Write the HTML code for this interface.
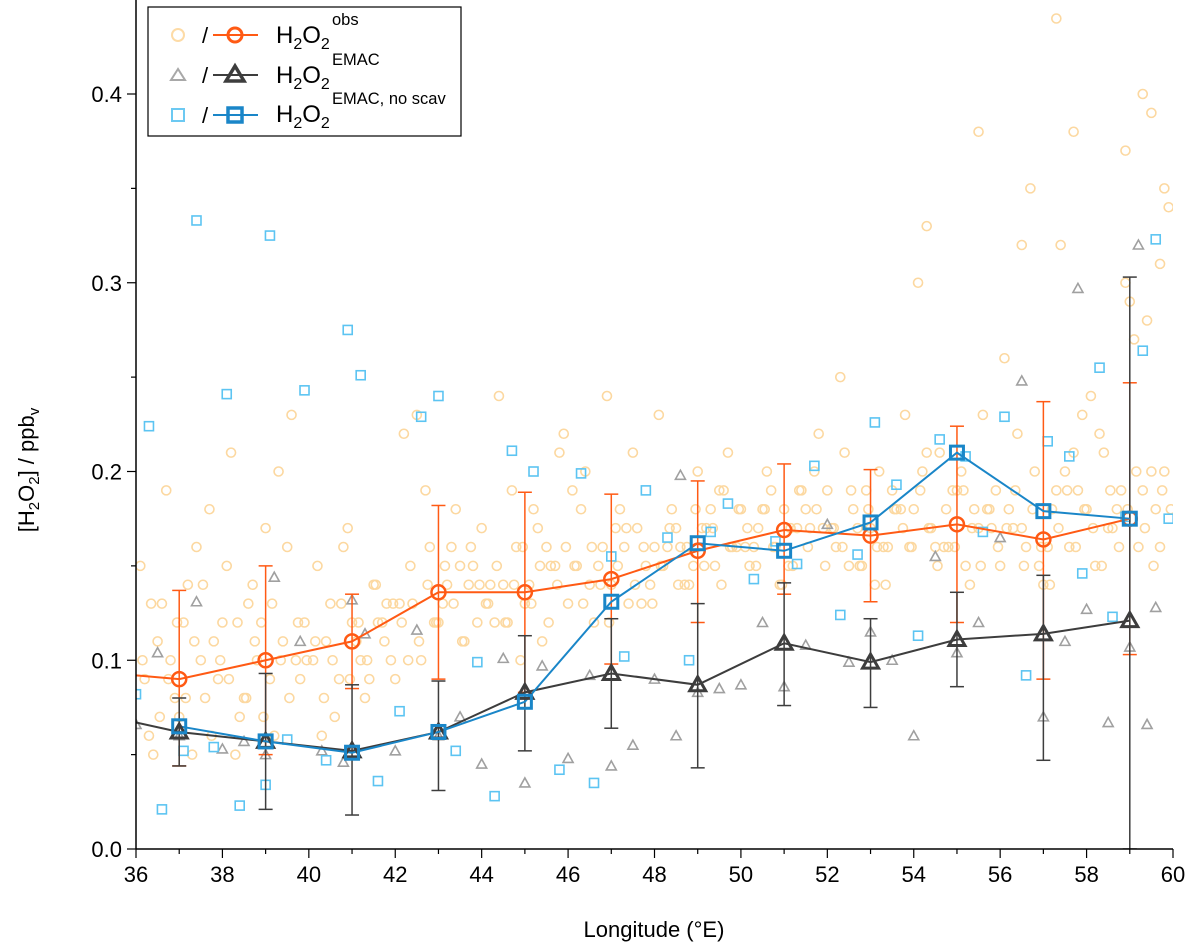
<!DOCTYPE html>
<html><head><meta charset="utf-8"><style>
body{margin:0;background:#fff;}
svg text{font-family:"Liberation Sans",Arial,sans-serif;}
</style></head><body>
<svg id="chart" width="1187" height="947" viewBox="0 0 1187 947" xmlns="http://www.w3.org/2000/svg">
<defs><clipPath id="clip"><rect x="136" y="0" width="1037" height="849"/></clipPath></defs>
<g id="scatter" clip-path="url(#clip)"></g>
<g id="lines" clip-path="url(#clip)"></g>
<g id="axes"></g>
<g id="legend">
<rect x="148" y="7" width="313" height="129" fill="#fff" stroke="#000" stroke-width="1.2"/>
<circle cx="178" cy="35" r="6" fill="none" stroke="#fddba6" stroke-width="2"/>
<text x="202" y="43" font-size="22">/</text>
<line x1="213" y1="35" x2="258" y2="35" stroke="#ff5a14" stroke-width="2"/>
<circle cx="235" cy="35" r="7" fill="none" stroke="#ff5a14" stroke-width="3"/>
<text x="276" y="43" font-size="24">H<tspan font-size="16" dy="6">2</tspan><tspan dy="-6">O</tspan><tspan font-size="16" dy="6">2</tspan></text>
<text x="332" y="25" font-size="16.5">obs</text>
<polygon points="178,69 171,80 185,80" fill="none" stroke="#a8a8a8" stroke-width="2"/>
<text x="202" y="83" font-size="22">/</text>
<line x1="213" y1="75" x2="258" y2="75" stroke="#3d3d3d" stroke-width="2"/>
<polygon points="235,66 226,81 244,81" fill="none" stroke="#3d3d3d" stroke-width="3.5"/>
<text x="276" y="83" font-size="24">H<tspan font-size="16" dy="6">2</tspan><tspan dy="-6">O</tspan><tspan font-size="16" dy="6">2</tspan></text>
<text x="332" y="65" font-size="16.5">EMAC</text>
<rect x="172" y="109" width="12" height="12" fill="none" stroke="#6cc9f2" stroke-width="2"/>
<text x="202" y="123" font-size="22">/</text>
<line x1="213" y1="115" x2="258" y2="115" stroke="#1a86c8" stroke-width="2"/>
<rect x="228" y="108" width="14" height="14" fill="none" stroke="#1a86c8" stroke-width="3.5"/>
<text x="276" y="122" font-size="24">H<tspan font-size="16" dy="6">2</tspan><tspan dy="-6">O</tspan><tspan font-size="16" dy="6">2</tspan></text>
<text x="332" y="104" font-size="16.5">EMAC, no scav</text>
</g>
</svg>
<script>
const binLon=[37,39,41,43,45,47,49,51,53,55,57,59];
const obsMean=[0.090,0.100,0.110,0.136,0.136,0.143,0.158,0.169,0.166,0.172,0.164,0.175];
const obsLo=[0.044,0.050,0.085,0.090,0.083,0.098,0.120,0.135,0.131,0.120,0.090,0.103];
const obsHi=[0.137,0.150,0.135,0.182,0.189,0.188,0.195,0.204,0.201,0.224,0.237,0.247];
const emacMean=[0.062,0.057,0.052,0.062,0.083,0.093,0.087,0.109,0.099,0.111,0.114,0.121];
const emacLo=[0.044,0.021,0.018,0.031,0.052,0.064,0.043,0.076,0.075,0.086,0.047,0.0];
const emacHi=[0.080,0.093,0.087,0.089,0.113,0.122,0.130,0.141,0.122,0.136,0.145,0.303];
const nsMean=[0.065,0.057,0.051,0.062,0.078,0.131,0.162,0.158,0.173,0.210,0.179,0.175];
const obsStartLon=[35,36];const obsStartVal=[0.094,0.092];
const emacStartVal=0.067;
const obsX=[36.1,36.3,36.5,36.7,36.9,37.1,37.3,37.5,37.7,37.9,36.2,36.6,37.0,37.4,37.8,36.4,36.8,37.2,37.6,38.0,38.2,38.4,38.6,38.8,39.0,39.2,39.4,39.6,39.8,38.1,38.5,38.9,39.3,39.7,38.3,38.7,39.1,39.5,39.9,40.1,40.3,40.5,40.7,40.9,41.1,41.3,41.5,41.7,41.9,40.2,40.6,41.0,41.4,41.8,40.4,40.8,41.2,41.6,42.0,42.2,42.4,42.6,42.8,43.0,43.2,43.4,43.6,43.8,42.1,42.5,42.9,43.3,43.7,42.3,42.7,43.1,43.5,43.9,44.0,44.2,44.4,44.6,44.8,45.0,45.2,45.4,45.6,45.8,44.1,44.5,44.9,45.3,45.7,44.3,44.7,45.1,45.5,45.9,46.0,46.2,46.4,46.6,46.8,47.0,47.2,47.4,47.6,47.8,46.1,46.5,46.9,47.3,47.7,46.3,46.7,47.1,47.5,47.9,48.0,48.2,48.4,48.6,48.8,49.0,49.2,49.4,49.6,49.8,48.1,48.5,48.9,49.3,49.7,48.3,48.7,49.1,49.5,49.9,50.0,50.2,50.4,50.6,50.8,51.0,51.2,51.4,51.6,51.8,50.1,50.5,50.9,51.3,51.7,50.3,50.7,51.1,51.5,51.9,52.0,52.2,52.4,52.6,52.8,53.0,53.2,53.4,53.6,53.8,52.1,52.5,52.9,53.3,53.7,52.3,52.7,53.1,53.5,53.9,54.0,54.2,54.4,54.6,54.8,55.0,55.2,55.4,55.6,55.8,54.1,54.5,54.9,55.3,55.7,54.3,54.7,55.1,55.5,55.9,56.0,56.2,56.4,56.6,56.8,57.0,57.2,57.4,57.6,57.8,56.1,56.5,56.9,57.3,57.7,56.3,56.7,57.1,57.5,57.9,58.0,58.2,58.4,58.6,58.8,59.0,59.2,59.4,59.6,59.8,58.1,58.5,58.9,59.3,59.7,58.3,58.7,59.1,59.5,59.9,59.5,59.7,59.3,58.9,57.7,57.3,56.5,55.5,54.3,59.8];
const obsY=[0.15,0.06,0.11,0.19,0.08,0.12,0.05,0.10,0.18,0.09,0.09,0.13,0.07,0.16,0.11,0.05,0.10,0.14,0.08,0.12,0.21,0.07,0.13,0.10,0.17,0.06,0.11,0.23,0.09,0.15,0.08,0.12,0.20,0.10,0.05,0.14,0.09,0.16,0.12,0.10,0.06,0.13,0.09,0.17,0.11,0.08,0.14,0.12,0.10,0.15,0.07,0.12,0.09,0.13,0.11,0.16,0.10,0.12,0.09,0.22,0.13,0.10,0.16,0.12,0.14,0.18,0.11,0.15,0.13,0.23,0.12,0.16,0.14,0.10,0.19,0.13,0.15,0.12,0.17,0.14,0.24,0.12,0.16,0.13,0.18,0.11,0.15,0.21,0.13,0.14,0.10,0.17,0.15,0.12,0.19,0.14,0.16,0.22,0.13,0.15,0.20,0.12,0.16,0.14,0.18,0.13,0.17,0.15,0.19,0.14,0.24,0.16,0.13,0.18,0.15,0.17,0.21,0.14,0.16,0.15,0.18,0.16,0.14,0.20,0.17,0.15,0.19,0.16,0.23,0.17,0.15,0.18,0.21,0.16,0.14,0.17,0.19,0.16,0.18,0.15,0.17,0.20,0.16,0.18,0.15,0.19,0.17,0.22,0.16,0.18,0.14,0.17,0.20,0.16,0.19,0.15,0.18,0.17,0.19,0.16,0.21,0.18,0.15,0.17,0.20,0.16,0.18,0.23,0.17,0.15,0.19,0.16,0.18,0.25,0.17,0.14,0.19,0.16,0.18,0.20,0.17,0.21,0.16,0.19,0.15,0.18,0.23,0.17,0.30,0.16,0.19,0.14,0.18,0.21,0.16,0.20,0.17,0.19,0.15,0.18,0.22,0.16,0.20,0.14,0.18,0.32,0.16,0.19,0.26,0.17,0.15,0.19,0.21,0.17,0.35,0.16,0.20,0.23,0.18,0.15,0.21,0.17,0.19,0.29,0.16,0.28,0.18,0.20,0.24,0.17,0.30,0.19,0.16,0.22,0.18,0.27,0.20,0.34,0.39,0.31,0.40,0.37,0.38,0.44,0.32,0.38,0.33,0.35];
const obsX2=[36.15,36.35,36.55,36.75,36.95,37.15,37.35,37.55,37.75,37.95,38.15,38.35,38.55,38.75,38.95,39.15,39.35,39.55,39.75,39.95,40.15,40.35,40.55,40.75,40.95,41.15,41.35,41.55,41.75,41.95,42.15,42.35,42.55,42.75,42.95,43.15,43.35,43.55,43.75,43.95,44.15,44.35,44.55,44.75,44.95,45.15,45.35,45.55,45.75,45.95,46.15,46.35,46.55,46.75,46.95,47.15,47.35,47.55,47.75,47.95,48.15,48.35,48.55,48.75,48.95,49.15,49.35,49.55,49.75,49.95,50.15,50.35,50.55,50.75,50.95,51.15,51.35,51.55,51.75,51.95,52.15,52.35,52.55,52.75,52.95,53.15,53.35,53.55,53.75,53.95,54.15,54.35,54.55,54.75,54.95,55.15,55.35,55.55,55.75,55.95,56.15,56.35,56.55,56.75,56.95,57.15,57.35,57.55,57.75,57.95,58.15,58.35,58.55,58.75,58.95,59.15,59.35,59.55,59.75,59.95];
const obsY2=[0.10,0.13,0.07,0.09,0.12,0.08,0.11,0.14,0.06,0.10,0.09,0.12,0.08,0.11,0.07,0.13,0.10,0.08,0.12,0.10,0.11,0.08,0.10,0.13,0.09,0.12,0.10,0.14,0.11,0.13,0.12,0.15,0.11,0.14,0.12,0.15,0.13,0.11,0.16,0.14,0.13,0.15,0.12,0.14,0.16,0.13,0.15,0.12,0.14,0.16,0.15,0.13,0.16,0.14,0.12,0.15,0.17,0.14,0.16,0.13,0.15,0.17,0.14,0.16,0.18,0.15,0.17,0.14,0.16,0.18,0.17,0.15,0.18,0.16,0.14,0.17,0.19,0.16,0.18,0.15,0.17,0.16,0.19,0.15,0.18,0.16,0.14,0.18,0.17,0.16,0.19,0.17,0.15,0.18,0.16,0.19,0.17,0.15,0.18,0.16,0.17,0.19,0.15,0.18,0.16,0.14,0.17,0.19,0.16,0.18,0.17,0.15,0.19,0.16,0.18,0.20,0.17,0.15,0.19,0.18];
const emacX=[36.0,36.5,37.0,37.4,38.0,38.5,39.0,39.2,39.8,40.3,40.8,41.0,41.3,42.0,42.5,43.0,43.5,44.0,44.5,45.0,45.4,46.0,46.5,47.0,47.5,48.0,48.5,48.6,49.0,49.5,50.0,50.5,51.0,51.5,52.0,52.5,53.0,53.5,54.0,54.5,55.0,55.5,56.0,56.5,57.0,57.5,57.8,58.0,58.5,59.0,59.2,59.4,59.6];
const emacY=[0.066,0.104,0.060,0.131,0.053,0.057,0.050,0.144,0.110,0.052,0.046,0.132,0.114,0.052,0.116,0.060,0.070,0.045,0.101,0.035,0.097,0.048,0.092,0.044,0.055,0.090,0.060,0.198,0.083,0.085,0.087,0.120,0.086,0.108,0.172,0.099,0.115,0.100,0.060,0.155,0.104,0.120,0.165,0.248,0.070,0.110,0.297,0.127,0.067,0.107,0.320,0.066,0.128];
const nsX=[36.0,36.3,36.6,37.1,37.4,37.8,38.1,38.4,39.0,39.1,39.5,39.9,40.4,40.9,41.2,41.6,42.1,42.6,43.0,43.4,43.9,44.3,44.7,45.2,45.8,46.3,46.6,47.0,47.3,47.8,48.3,48.8,49.3,49.7,50.3,50.8,51.3,51.7,52.3,52.7,53.1,53.6,54.1,54.6,55.2,55.6,56.1,56.6,57.1,57.6,57.9,58.3,58.6,58.9,59.3,59.6,59.9];
const nsY=[0.082,0.224,0.021,0.052,0.333,0.054,0.241,0.023,0.034,0.325,0.058,0.243,0.047,0.275,0.251,0.036,0.073,0.229,0.240,0.052,0.099,0.028,0.211,0.200,0.042,0.199,0.035,0.155,0.102,0.190,0.165,0.100,0.168,0.183,0.143,0.163,0.151,0.203,0.124,0.156,0.226,0.193,0.113,0.217,0.208,0.168,0.229,0.092,0.216,0.208,0.146,0.255,0.123,0.176,0.264,0.323,0.175];

const ns="http://www.w3.org/2000/svg";
const X0=136,X1=1173,Y0=849,Y1=94;
const xs=v=>X0+(v-36)/24*(X1-X0);
const ys=v=>Y0-v/0.4*(Y0-Y1);
function mk(tag,attrs,parent){const e=document.createElementNS(ns,tag);for(const k in attrs)e.setAttribute(k,attrs[k]);parent.appendChild(e);return e;}
const sc=document.getElementById('scatter'),ln=document.getElementById('lines'),ax=document.getElementById('axes');
function obsPts(X,Y){X.forEach((x,i)=>{const e=mk('circle',{cx:xs(x),cy:ys(Y[i]),r:4.5,fill:'none',stroke:'#fcd8a0','stroke-width':1.6},sc);

});}
obsPts(obsX,obsY);obsPts(obsX2,obsY2);
emacX.forEach((x,i)=>{const cx=xs(x),cy=ys(emacY[i]);const e=mk('polygon',{points:`${cx},${cy-5} ${cx-5},${cy+4} ${cx+5},${cy+4}`,fill:'none',stroke:'#a0a0a0','stroke-width':1.6},sc);

});
nsX.forEach((x,i)=>{const e=mk('rect',{x:xs(x)-4.5,y:ys(nsY[i])-4.5,width:9,height:9,fill:'none',stroke:'#5cc4f2','stroke-width':1.6},sc);

});
function errbars(lo,hi,col,name){binLon.forEach((x,i)=>{const cx=xs(x);const g=mk('g',{stroke:col,'stroke-width':1.5},ln);


mk('line',{x1:cx,x2:cx,y1:ys(lo[i]),y2:ys(hi[i])},g);mk('line',{x1:cx-7,x2:cx+7,y1:ys(lo[i]),y2:ys(lo[i])},g);mk('line',{x1:cx-7,x2:cx+7,y1:ys(hi[i]),y2:ys(hi[i])},g);});}
errbars(obsLo,obsHi,'#ff5a14','obs-error-bar');
errbars(emacLo,emacHi,'#3d3d3d','emac-error-bar');
function poly(xsA,ysA,col,name){const p=mk('polyline',{points:xsA.map((x,i)=>xs(x)+','+ys(ysA[i])).join(' '),fill:'none',stroke:col,'stroke-width':2},ln);

}
poly(obsStartLon.concat(binLon),obsStartVal.concat(obsMean),'#ff5a14','obs-mean-line');
poly([36].concat(binLon),[emacStartVal].concat(emacMean),'#3d3d3d','emac-mean-line');
poly(binLon,nsMean,'#1a86c8','noscav-mean-line');
binLon.forEach((x,i)=>{
const a=mk('circle',{cx:xs(x),cy:ys(obsMean[i]),r:7,fill:'none',stroke:'#ff5a14','stroke-width':2.5},ln);


const cx=xs(x),cy=ys(emacMean[i]);
const b=mk('polygon',{points:`${cx},${cy-8} ${cx-8},${cy+6} ${cx+8},${cy+6}`,fill:'none',stroke:'#3d3d3d','stroke-width':3},ln);


const c=mk('rect',{x:xs(x)-6.5,y:ys(nsMean[i])-6.5,width:13,height:13,fill:'none',stroke:'#1a86c8','stroke-width':3},ln);

});
const xa=mk('line',{x1:X0,x2:X1,y1:Y0,y2:Y0,stroke:'#000','stroke-width':1.5},ax);


const ya=mk('line',{x1:X0,x2:X0,y1:0,y2:Y0,stroke:'#000','stroke-width':1.5},ax);


for(let v=36;v<=60;v++){const x=xs(v);mk('line',{x1:x,x2:x,y1:Y0,y2:Y0+(v%2?5:9),stroke:'#000','stroke-width':1.2},ax);
if(v%2===0){const t=mk('text',{x:x,y:Y0+33,'font-size':22,'text-anchor':'middle'},ax);t.textContent=v;

}}
for(let k=0;k<=9;k++){const v=k*0.05;const y=ys(v);if(y<0)continue;mk('line',{x1:X0,x2:X0-(k%2?5:9),y1:y,y2:y,stroke:'#000','stroke-width':1.2},ax);
if(k%2===0){const t=mk('text',{x:X0-14,y:y+8,'font-size':22,'text-anchor':'end'},ax);t.textContent=(v).toFixed(1);

}}
const xt=mk('text',{x:654,y:937,'font-size':22,'text-anchor':'middle'},ax);xt.textContent='Longitude (°E)';


const yt=mk('text',{transform:'translate(34,470) rotate(-90)','font-size':22,'text-anchor':'middle'},ax);
yt.innerHTML='[H<tspan font-size="15" dy="5">2</tspan><tspan dy="-5">O</tspan><tspan font-size="15" dy="5">2</tspan><tspan dy="-5">] / ppb</tspan><tspan font-size="15" dy="5">v</tspan>';


</script>
</body></html>
